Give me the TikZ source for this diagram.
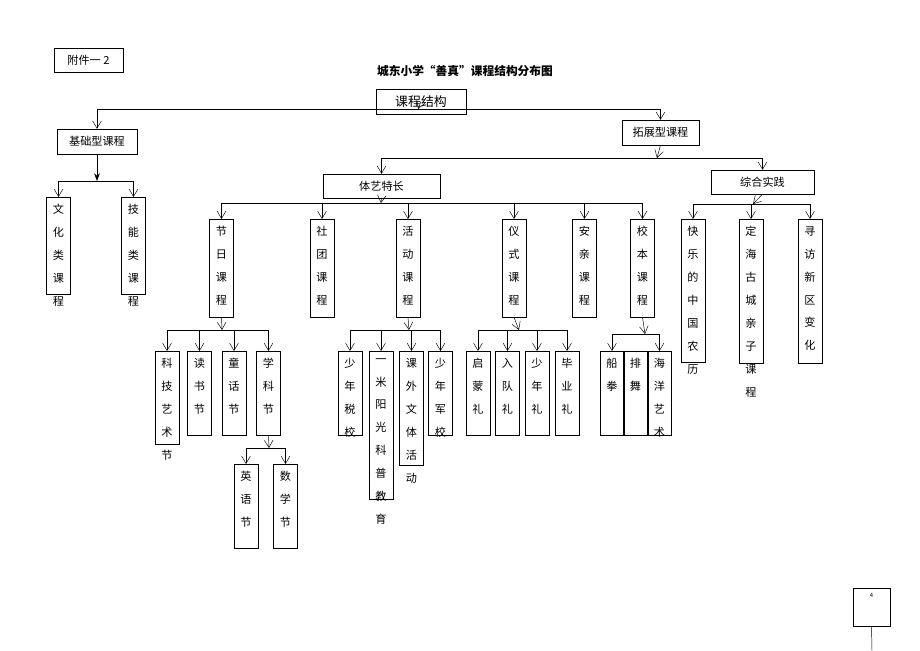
\documentclass[tikz,border=0pt]{standalone}
\usepackage{fontspec}
\setmainfont{Noto Sans CJK SC}
\usetikzlibrary{arrows.meta}
\newlength\pxu
\setlength\pxu{0.03cm}
% vertical text column, height given in px
\newcommand{\colt}[2]{\parbox[t][\dimexpr #1\pxu-12pt\relax][t]{1em}{\centering #2}}
\tikzset{
  hbox/.style={draw, thin, inner sep=0pt, font=\fontsize{9.5}{12}\selectfont},
  vbox/.style={draw, thin, anchor=north, minimum width=0.72cm, inner xsep=0pt, inner ysep=6pt, font=\fontsize{9.5}{19.6}\selectfont},
  arr/.style={thin, -{Straight Barb[length=2.2mm, width=2.6mm]}},
  bar/.style={thin}
}
\begin{document}
\begin{tikzpicture}[x=0.03cm, y=-0.03cm]
\useasboundingbox (0,0) rectangle (920,651);
% top part
\node (fj) [hbox, minimum width=2.07cm, minimum height=0.72cm] at (88.5,60) {附件一 2};
\node (title) [font=\fontsize{10}{12}\selectfont\bfseries] at (465,71) {城东小学“善真”课程结构分布图};
\node (kc) [hbox, minimum width=2.7cm, minimum height=0.75cm, font=\fontsize{11}{13}\selectfont] at (421,101.5) {课程结构};
\node (jc) [hbox, minimum width=2.4cm, minimum height=0.75cm] at (97,141.5) {基础型课程};
\node (tz) [hbox, minimum width=2.31cm, minimum height=0.75cm] at (660.5,132.5) {拓展型课程};
\node (ty) [hbox, minimum width=3.51cm, minimum height=0.72cm] at (381.5,186) {体艺特长};
\node (zh) [hbox, minimum width=3.09cm, minimum height=0.72cm] at (762.5,182) {综合实践};
\coordinate (kcb) at (418,109);
\draw[bar] (jc.north |- kcb) -- (tz.north |- kcb);
\draw[arr] (kc.center) -- (kcb);
\draw[arr] (jc.north |- kcb) -- (jc.north);
\draw[arr] (tz.north |- kcb) -- (tz.north);
% basic
\node (wh) [vbox] at (58.5,197) {\colt{97}{文\\化\\类\\课\\程}};
\node (jn) [vbox] at (133.5,197) {\colt{97}{技\\能\\类\\课\\程}};
\coordinate (jcb) at (97,181);
\draw[thick, -Stealth] (jc.south) -- (jcb);
\draw[bar] (wh.north |- jcb) -- (jn.north |- jcb);
\foreach \n in {wh,jn} \draw[arr] (\n.north |- jcb) -- (\n.north);
% extended
\coordinate (tzb) at (657,158);
\draw[arr] (tz.south) -- (tzb);
\draw[bar] (ty.north |- tzb) -- (zh.north |- tzb);
\draw[arr] (ty.north |- tzb) -- (ty.north);
\draw[arr] (zh.north |- tzb) -- (zh.north);
% second level
\node (jr) [vbox] at (221.5,219) {\colt{98}{节\\日\\课\\程}};
\node (st) [vbox] at (322,219) {\colt{98}{社\\团\\课\\程}};
\node (hd) [vbox] at (408,219) {\colt{98}{活\\动\\课\\程}};
\node (ys) [vbox] at (514,219) {\colt{98}{仪\\式\\课\\程}};
\node (aq) [vbox] at (584.5,219) {\colt{98}{安\\亲\\课\\程}};
\node (xb) [vbox] at (642.5,219) {\colt{98}{校\\本\\课\\程}};
\coordinate (tyb) at (381,203);
\draw[arr] (ty.south) -- (tyb);
\draw[bar] (jr.north |- tyb) -- (xb.north |- tyb);
\foreach \n in {jr,st,hd,ys,aq,xb} \draw[arr] (\n.north |- tyb) -- (\n.north);
\node (kl) [vbox] at (693,219) {\colt{143}{快\\乐\\的\\中\\国\\农\\历}};
\node (dh) [vbox] at (751,219) {\colt{144}{定\\海\\古\\城\\亲\\子\\课\\程}};
\node (xf) [vbox] at (810,219) {\colt{144}{寻\\访\\新\\区\\变\\化}};
\coordinate (zhb) at (753,204);
\draw[arr] (zh.south) -- (zhb);
\draw[bar] (kl.north |- zhb) -- (xf.north |- zhb);
\foreach \n in {kl,dh,xf} \draw[arr] (\n.north |- zhb) -- (\n.north);
% festivals
\node (kj) [vbox] at (167,351) {\colt{93}{科\\技\\艺\\术\\节}};
\node (ds) [vbox] at (199.5,351) {\colt{84}{读\\书\\节}};
\node (th) [vbox] at (234,351) {\colt{84}{童\\话\\节}};
\node (xk) [vbox] at (268.5,351) {\colt{84}{学\\科\\节}};
\coordinate (jrb) at (222,330);
\draw[arr] (jr.south) -- (jrb);
\draw[bar] (kj.north |- jrb) -- (xk.north |- jrb);
\foreach \n in {kj,ds,th,xk} \draw[arr] (\n.north |- jrb) -- (\n.north);
\node (yy) [vbox] at (246,464) {\colt{84}{英\\语\\节}};
\node (sx) [vbox] at (285.5,464) {\colt{84}{数\\学\\节}};
\coordinate (xkb) at (269,448);
\draw[arr] (xk.south) -- (xkb);
\draw[bar] (yy.north |- xkb) -- (sx.north |- xkb);
\foreach \n in {yy,sx} \draw[arr] (\n.north |- xkb) -- (\n.north);
% activities
\node (sn) [vbox] at (350,351) {\colt{84}{少\\年\\税\\校}};
\node (ym) [vbox] at (381,351) {\colt{148}{一\\米\\阳\\光\\科\\普\\教\\育}};
\node (kw) [vbox] at (411.5,351) {\colt{114}{课\\外\\文\\体\\活\\动}};
\node (jx) [vbox] at (440.5,351) {\colt{84}{少\\年\\军\\校}};
\coordinate (hdb) at (409,330);
\draw[arr] (hd.south) -- (hdb);
\draw[bar] (sn.north |- hdb) -- (jx.north |- hdb);
\foreach \n in {sn,ym,kw,jx} \draw[arr] (\n.north |- hdb) -- (\n.north);
% ceremonies
\node (qm) [vbox] at (478,351) {\colt{84}{启\\蒙\\礼}};
\node (rd) [vbox] at (507.5,351) {\colt{84}{入\\队\\礼}};
\node (snl) [vbox] at (537,351) {\colt{84}{少\\年\\礼}};
\node (by) [vbox] at (567,351) {\colt{84}{毕\\业\\礼}};
\coordinate (ysb) at (519,330);
\draw[arr] (ys.south) -- (ysb);
\draw[bar] (qm.north |- ysb) -- (by.north |- ysb);
\foreach \n in {qm,rd,snl,by} \draw[arr] (\n.north |- ysb) -- (\n.north);
% school-based
\node (cq) [vbox, minimum width=0.69cm] at (612,351) {\colt{84}{船\\拳}};
\node (pw) [vbox, minimum width=0.69cm] at (635.5,351) {\colt{84}{排\\舞}};
\node (hy) [vbox, minimum width=0.69cm] at (659.5,351) {\colt{84}{海\\洋\\艺\\术}};
\coordinate (xbb) at (645,334);
\draw[arr] (xb.south) -- (xbb);
\draw[bar] (cq.north |- xbb) -- (hy.north |- xbb);
\foreach \n in {cq,hy} \draw[arr] (\n.north |- xbb) -- (\n.north);
% page number
\node (pg) [draw, thin, minimum width=1.11cm, minimum height=1.14cm, inner sep=2pt, font=\tiny, align=center, text depth=0.7cm] at (871.5,607) {4};
\coordinate (pge) at (872,651);
\draw[thin] (pg.south) -- (pge);
\end{tikzpicture}
\end{document}
